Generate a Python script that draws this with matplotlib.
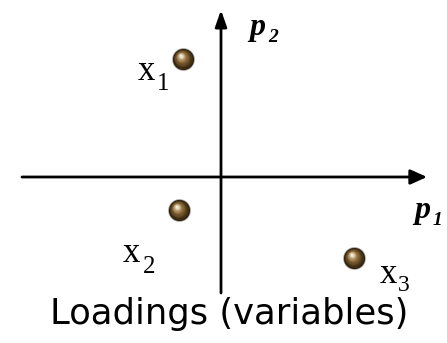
import matplotlib
matplotlib.use("Agg")
import matplotlib.pyplot as plt
import matplotlib.transforms as mtransforms
import numpy as np
from matplotlib.colors import to_rgb

# Loadings (schematic units, origin at the axes crossing)
variables = ["1", "2", "3"]
p1_load = [-38, -42, 133]
p2_load = [118, -33, -81]

title = "Loadings (variables)"

W, H, DPI = 447, 343, 100
fig = plt.figure(figsize=(W / DPI, H / DPI), dpi=DPI)
ax = fig.add_axes([0, 0, 1, 1])
ox, oy = 221, 177  # pixel position of origin
ax.set_xlim(-ox, W - ox)
ax.set_ylim(-(H - oy), oy)
ax.axis("off")

# Axes arrows
ax.annotate("", xy=(206, 0), xytext=(-199, 0),
            arrowprops=dict(arrowstyle="-|>,head_length=1.0,head_width=0.45",
                            lw=2, color="black", shrinkA=0, shrinkB=0))
ax.annotate("", xy=(0, 167), xytext=(0, -116),
            arrowprops=dict(arrowstyle="-|>,head_length=1.0,head_width=0.35",
                            lw=2, color="black", shrinkA=0, shrinkB=0))

# Shaded spheres
dark = np.array(to_rgb("#2a1c08"))
mid = np.array(to_rgb("#8c6a38"))
light = np.array(to_rgb("#fff6e2"))
R = 10.5  # radius in pixels
N = 18
ax.scatter(p1_load, p2_load, s=(2 * (R + 0.8) * 72 / DPI) ** 2, color="#9a9a9a", zorder=3, lw=0)
for k in range(N):
    t = k / (N - 1)
    r = R * (1 - 0.92 * t)
    if t < 0.55:
        c = dark + (mid - dark) * (t / 0.55)
    else:
        c = mid + (light - mid) * ((t - 0.55) / 0.45)
    dx = -0.25 * R * t * 72 / DPI
    dy = 0.35 * R * t * 72 / DPI
    tr = ax.transData + mtransforms.ScaledTranslation(dx / 72, dy / 72, fig.dpi_scale_trans)
    ax.scatter(p1_load, p2_load, s=(2 * r * 72 / DPI) ** 2, color=c, lw=0,
               zorder=4 + k, transform=tr)

# Variable labels: offsets in pixels from sphere centre
# (x-left, baseline-down) for "x" and for the subscript
label_offsets = [(-45, 21, -26, 31), (-56, 52, -36, 63), (26, 25, 44, 33)]
serif = "Liberation Serif"
for v, px, py, (lx, ly, sx, sy) in zip(variables, p1_load, p2_load, label_offsets):
    ax.text(px + lx, py - ly, "x", fontsize=25, family=serif,
            ha="left", va="baseline", zorder=30)
    ax.text(px + sx, py - sy, v, fontsize=17 if v == "3" else 18, family=serif,
            ha="left", va="baseline", zorder=30)

# Axis names
ax.text(249 - ox, oy - 35, "p", fontsize=23, family=serif, weight="bold",
        style="italic", ha="left", va="baseline")
ax.text(268 - ox, oy - 42, "2", fontsize=14, family=serif, weight="bold",
        style="italic", ha="left", va="baseline")
ax.text(414 - ox, oy - 218, "p", fontsize=23, family=serif, weight="bold",
        style="italic", ha="left", va="baseline")
ax.text(433 - ox, oy - 225, "1", fontsize=14, family=serif, weight="bold",
        style="italic", ha="left", va="baseline")

# Title
ax.text(229 - ox, oy - 324, title, fontsize=25.5, family="DejaVu Sans",
        ha="center", va="baseline")

fig.savefig("out.png", dpi=DPI)
